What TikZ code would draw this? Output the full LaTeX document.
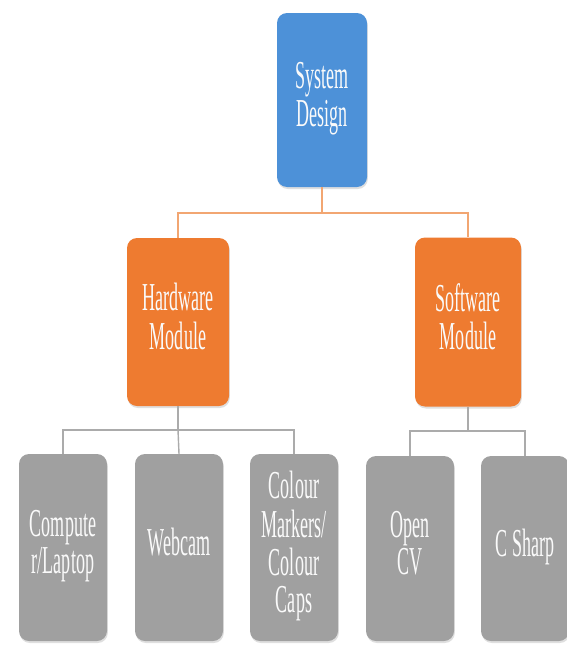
\documentclass[tikz,border=0pt]{standalone}
\usepackage{fontspec}
\setmainfont{Liberation Serif}
\usetikzlibrary{shadows}
\definecolor{sdblue}{HTML}{4D91D8}
\definecolor{sdorange}{HTML}{EE7B30}
\definecolor{sdgray}{HTML}{A0A0A0}
\definecolor{lnorange}{HTML}{F2A672}
\definecolor{lngray}{HTML}{ABABAB}
\newcommand\boxtext[1]{\scalebox{0.82}[1.8]{\begin{tabular}{@{}c@{}}#1\end{tabular}}}
\tikzset{
  base/.style={rectangle, rounded corners=10pt, inner sep=0pt,
    text=white!96!gray, font=\fontsize{22}{20.5}\selectfont,
    drop shadow={opacity=0.25, shadow xshift=0.8pt, shadow yshift=-2pt}},
  topbox/.style={base, fill=sdblue},
  midbox/.style={base, fill=sdorange},
  leafbox/.style={base, fill=sdgray, minimum width=88pt, minimum height=187pt},
  lineo/.style={draw=lnorange, line width=1.4pt},
  lineg/.style={draw=lngray, line width=1.4pt}
}
\begin{document}
\begin{tikzpicture}[x=1pt,y=-1pt]
\useasboundingbox (0,0) rectangle (567,645);
\node[topbox, minimum width=90pt, minimum height=174pt] (sys) at (322,100) {\boxtext{System\\Design}};
\node[midbox, minimum width=102pt, minimum height=168pt] (hw) at (178,322) {\boxtext{Hardware\\Module}};
\node[midbox, minimum width=106pt, minimum height=169pt] (sw) at (468,322) {\boxtext{Software\\Module}};
\node[leafbox] (c1) at (63,547.5) {\boxtext{Compute\\r/Laptop}};
\node[leafbox] (c2) at (179,547.5) {\boxtext{Webcam}};
\node[leafbox] (c3) at (294,547.5) {\boxtext{Colour\\Markers/\\Colour\\Caps}};
\node[leafbox, minimum height=185pt] (c4) at (410,548.5) {\boxtext{Open\\CV}};
\node[leafbox, minimum height=185pt] (c5) at (525,548.5) {\boxtext{C Sharp}};
% connectors
\coordinate (j1) at (322,213);
\coordinate (j2) at (178,430);
\coordinate (j3) at (468,431);
\draw[lineo] (sys.south) -- (j1);
\draw[lineo] (hw.north) |- (j1) -| (sw.north);
\draw[lineg] (hw.south) -- (j2);
\draw[lineg] (c1.north) |- (j2) -| (c3.north);
\draw[lineg] (j2) -- (c2.north);
\draw[lineg] (sw.south) -- (j3);
\draw[lineg] (c4.north) |- (j3) -| (c5.north);
\end{tikzpicture}
\end{document}
